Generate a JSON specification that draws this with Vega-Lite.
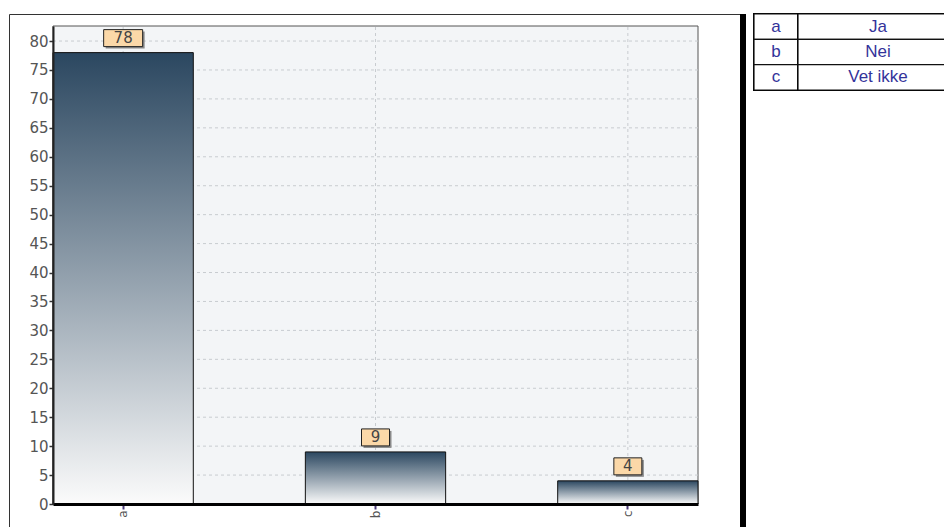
{
  "$schema": "https://vega.github.io/schema/vega-lite/v6.json",
  "background": "white",
  "padding": {"left": 8, "top": 12, "right": 0, "bottom": 0},
  "config": {
    "view": {"stroke": null},
    "axisY": {"tickCount": 17, "labelOverlap": false, "labelFont": "DejaVu Sans", "labelFontSize": 15, "labelColor": "#555555"},
    "axisX": {"labelFont": "DejaVu Sans", "labelFontSize": 12, "labelColor": "#555555"}
  },
  "datasets": {
    "answers": [
      {"cat": "a", "n": 78},
      {"cat": "b", "n": 9},
      {"cat": "c", "n": 4}
    ],
    "plotArea": [
      {"from": "a", "to": "c", "lo": 0, "hi": 82.6}
    ],
    "gridY": [
      {"v": 5}, {"v": 10}, {"v": 15}, {"v": 20}, {"v": 25}, {"v": 30}, {"v": 35}, {"v": 40},
      {"v": 45}, {"v": 50}, {"v": 55}, {"v": 60}, {"v": 65}, {"v": 70}, {"v": 75}, {"v": 80}
    ],
    "legend": [
      {"key": "a", "label": "Ja"},
      {"key": "b", "label": "Nei"},
      {"key": "c", "label": "Vet ikke"}
    ]
  },
  "spacing": 6,
  "hconcat": [
    {
      "spacing": 0,
      "bounds": "flush",
      "hconcat": [
        {
          "width": 731,
          "height": 530,
          "view": {"fill": "white", "stroke": "#333333", "strokeWidth": 1},
          "layer": [
            {
              "data": {"name": "plotArea"},
              "mark": {"type": "rect", "fill": "#f3f5f7", "stroke": "#555555", "strokeWidth": 1},
              "encoding": {
                "x": {
                  "field": "from", "type": "nominal", "bandPosition": 0,
                  "scale": {"domain": ["a", "b", "c"], "range": [44, 689], "paddingInner": 0.444, "paddingOuter": 0},
                  "axis": {
                    "orient": "bottom", "offset": -40, "zindex": 1, "grid": false, "title": null,
                    "bandPosition": 0.5,
                    "domainColor": "#000000", "domainWidth": 3,
                    "tickColor": "#4b3a78", "tickWidth": 2, "tickSize": 5,
                    "labelAngle": -90, "labelPadding": 1
                  }
                },
                "x2": {"field": "to", "bandPosition": 1},
                "y": {
                  "field": "lo", "type": "quantitative",
                  "scale": {"domain": [0, 82.6], "range": [490, 12], "nice": false, "zero": false},
                  "axis": {
                    "orient": "left", "offset": -44, "zindex": 1, "grid": false, "title": null,
                    "tickCount": 17,
                    "values": [0, 5, 10, 15, 20, 25, 30, 35, 40, 45, 50, 55, 60, 65, 70, 75, 80],
                    "labelOverlap": false,
                    "domainColor": "#222222", "domainWidth": 2,
                    "tickColor": "#333333", "tickSize": 4, "tickWidth": 1.5,
                    "labelPadding": 1
                  }
                },
                "y2": {"field": "hi"}
              }
            },
            {
              "data": {"name": "gridY"},
              "mark": {"type": "rule", "color": "#c8ccd0", "strokeWidth": 1, "strokeDash": [3, 3]},
              "encoding": {
                "x": {"datum": "a", "type": "nominal", "bandPosition": 0},
                "x2": {"datum": "c", "bandPosition": 1},
                "y": {"field": "v", "type": "quantitative"}
              }
            },
            {
              "data": {"name": "answers"},
              "mark": {"type": "rule", "color": "#c8ccd0", "strokeWidth": 1, "strokeDash": [3, 3]},
              "encoding": {
                "x": {"field": "cat", "type": "nominal"},
                "y": {"datum": 0, "type": "quantitative"},
                "y2": {"datum": 82.6}
              }
            },
            {
              "data": {"name": "answers"},
              "mark": {
                "type": "bar",
                "stroke": "#111111",
                "strokeWidth": 1,
                "fill": {
                  "gradient": "linear", "x1": 0, "y1": 0, "x2": 0, "y2": 1,
                  "stops": [
                    {"offset": 0, "color": "#2b4760"},
                    {"offset": 1, "color": "#fbfbfb"}
                  ]
                }
              },
              "encoding": {
                "x": {"field": "cat", "type": "nominal"},
                "y": {"field": "n", "type": "quantitative"}
              }
            },
            {
              "data": {"name": "answers"},
              "transform": [{"filter": "datum.n >= 10"}],
              "mark": {"type": "rect", "width": 39, "fill": "#8a8a8a", "xOffset": 2, "yOffset": -4, "y2Offset": -21},
              "encoding": {
                "x": {"field": "cat", "type": "nominal"},
                "y": {"field": "n", "type": "quantitative"},
                "y2": {"field": "n"}
              }
            },
            {
              "data": {"name": "answers"},
              "transform": [{"filter": "datum.n < 10"}],
              "mark": {"type": "rect", "width": 28, "fill": "#8a8a8a", "xOffset": 2, "yOffset": -4, "y2Offset": -21},
              "encoding": {
                "x": {"field": "cat", "type": "nominal"},
                "y": {"field": "n", "type": "quantitative"},
                "y2": {"field": "n"}
              }
            },
            {
              "data": {"name": "answers"},
              "transform": [{"filter": "datum.n >= 10"}],
              "mark": {"type": "rect", "width": 39, "fill": "#fbd8a8", "stroke": "#222222", "strokeWidth": 1, "yOffset": -6, "y2Offset": -23},
              "encoding": {
                "x": {"field": "cat", "type": "nominal"},
                "y": {"field": "n", "type": "quantitative"},
                "y2": {"field": "n"}
              }
            },
            {
              "data": {"name": "answers"},
              "transform": [{"filter": "datum.n < 10"}],
              "mark": {"type": "rect", "width": 28, "fill": "#fbd8a8", "stroke": "#222222", "strokeWidth": 1, "yOffset": -6, "y2Offset": -23},
              "encoding": {
                "x": {"field": "cat", "type": "nominal"},
                "y": {"field": "n", "type": "quantitative"},
                "y2": {"field": "n"}
              }
            },
            {
              "data": {"name": "answers"},
              "mark": {"type": "text", "dy": -14.5, "baseline": "middle", "align": "center", "font": "DejaVu Sans", "fontSize": 15, "color": "#444444"},
              "encoding": {
                "x": {"field": "cat", "type": "nominal"},
                "y": {"field": "n", "type": "quantitative"},
                "text": {"field": "n", "type": "quantitative"}
              }
            }
          ]
        },
        {
          "width": 6,
          "height": 515,
          "view": {"fill": "#000000", "stroke": null},
          "data": {"name": "legend"},
          "mark": {"type": "rect", "opacity": 0},
          "encoding": {}
        }
      ]
    },
    {
      "spacing": 0,
      "bounds": "flush",
      "hconcat": [
        {
          "width": 44,
          "height": 76,
          "data": {"name": "legend"},
          "view": {"stroke": "#000000", "strokeWidth": 2},
          "encoding": {
            "y": {"field": "key", "type": "nominal", "axis": null, "scale": {"paddingInner": 0, "paddingOuter": 0}}
          },
          "layer": [
            {"mark": {"type": "rect", "fill": "white", "stroke": "#111111", "strokeWidth": 1.2}},
            {
              "mark": {"type": "text", "font": "Liberation Sans", "fontSize": 17, "color": "#33339a", "baseline": "middle"},
              "encoding": {"text": {"field": "key", "type": "nominal"}}
            }
          ]
        },
        {
          "width": 160,
          "height": 76,
          "data": {"name": "legend"},
          "view": {"stroke": "#000000", "strokeWidth": 2},
          "encoding": {
            "y": {"field": "key", "type": "nominal", "axis": null, "scale": {"paddingInner": 0, "paddingOuter": 0}}
          },
          "layer": [
            {"mark": {"type": "rect", "fill": "white", "stroke": "#111111", "strokeWidth": 1.2}},
            {
              "mark": {"type": "text", "font": "Liberation Sans", "fontSize": 17, "color": "#33339a", "baseline": "middle"},
              "encoding": {"text": {"field": "label", "type": "nominal"}}
            }
          ]
        }
      ]
    }
  ]
}
